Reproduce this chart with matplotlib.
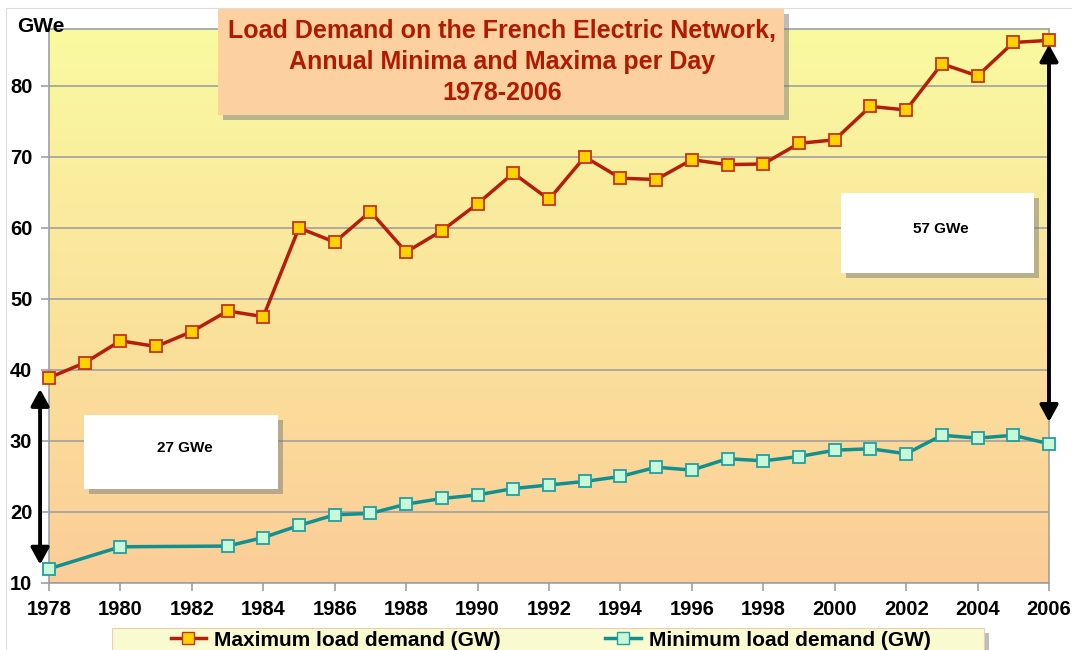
import numpy as np
import matplotlib.pyplot as plt
from matplotlib.patches import Rectangle
from matplotlib.lines import Line2D

plt.rcParams['font.family'] = ['Liberation Sans', 'DejaVu Sans']
plt.rcParams['font.weight'] = 'bold'

# data (GWe)
years = list(range(1978, 2007))
max_load = [38.9, 41.0, 44.1, 43.3, 45.4, 48.3, 47.5, 60.0, 58.0, 62.3,
            56.6, 59.6, 63.4, 67.7, 64.0, 70.0, 67.0, 66.8, 69.6, 68.9,
            69.0, 71.9, 72.4, 77.1, 76.6, 83.1, 81.4, 86.1, 86.4]
min_load = [12.0, np.nan, 15.1, np.nan, np.nan, 15.2, 16.4, 18.1, 19.6, 19.8,
            21.1, 21.9, 22.4, 23.3, 23.8, 24.3, 25.0, 26.3, 25.9, 27.5,
            27.2, 27.8, 28.7, 28.9, 28.2, 30.8, 30.4, 30.8, 29.6]
yticks = [10, 20, 30, 40, 50, 60, 70, 80]
xticks = list(range(1978, 2007, 2))

W, H = 1072, 650
fig = plt.figure(figsize=(W / 100, H / 100), dpi=100)

def px_box(x0, y0, x1, y1, face, shadow=True, edge='none', z=5):
    # rectangle in figure pixels (origin top-left)
    if shadow:
        fig.patches.append(Rectangle(((x0 + 5) / W, 1 - (y1 + 5) / H), (x1 - x0) / W, (y1 - y0) / H,
                                     transform=fig.transFigure, facecolor='#7a7a7a', alpha=0.5,
                                     edgecolor='none', zorder=z - 0.1))
    fig.patches.append(Rectangle((x0 / W, 1 - y1 / H), (x1 - x0) / W, (y1 - y0) / H,
                                 transform=fig.transFigure, facecolor=face, edgecolor=edge,
                                 linewidth=0.8, zorder=z))

# faint outer chart border
px_box(6, 8, 1300, 900, 'none', shadow=False, edge='#dddddd', z=0)

ax = fig.add_axes([49 / W, 1 - 583 / H, 1000 / W, 554 / H])
ax.set_xlim(1978, 2006)
ax.set_ylim(10, 88)

# background gradient yellow -> orange
grad = np.linspace(0, 1, 256).reshape(-1, 1)
top = np.array([249, 250, 160]) / 255
bot = np.array([252, 205, 152]) / 255
img = top + (bot - top) * grad[..., None]
ax.imshow(img, extent=[1978, 2006, 10, 88], aspect='auto', zorder=0)

ax.set_yticks(yticks)
ax.set_xticks(xticks)
ax.grid(axis='y', color='#a0a0a0', linewidth=1.2, zorder=1)
for s in ax.spines.values():
    s.set_color('#a0a0a0')
    s.set_linewidth(1.2)
ax.tick_params(axis='both', colors='#a0a0a0', labelcolor='black', labelsize=14.5,
               length=6, width=1.2, pad=6)
for lab in ax.get_xticklabels() + ax.get_yticklabels():
    lab.set_fontweight('bold')

yrs = np.array(years)
mx = np.array(max_load)
mn = np.array(min_load)
ok = ~np.isnan(mn)
ax.plot(yrs, mx, color='#b41e0a', linewidth=2.5, marker='s', markersize=9,
        markerfacecolor='#ffd200', markeredgecolor='#c83214', markeredgewidth=1.3,
        zorder=4, clip_on=False)
ax.plot(yrs[ok], mn[ok], color='#10908f', linewidth=2.5, marker='s', markersize=9,
        markerfacecolor='#c8f8d8', markeredgecolor='#20a0a0', markeredgewidth=1.3,
        zorder=4, clip_on=False)

# double arrows
arrow = dict(arrowstyle='<|-|>,head_length=1.0,head_width=0.55', color='black', linewidth=2.8)
ax.annotate('', xy=(1977.75, 12.2), xytext=(1977.75, 37.7),
            arrowprops=arrow, annotation_clip=False, zorder=6)
ax.annotate('', xy=(2006, 32.3), xytext=(2006, 86.2),
            arrowprops=arrow, annotation_clip=False, zorder=6)

# text boxes
px_box(84, 415, 278, 489, 'white')
fig.text(185 / W, 1 - 448 / H, '27 GWe', ha='center', va='center', fontsize=11, fontweight='bold', zorder=6)
px_box(841, 193, 1034, 273, 'white')
fig.text(941 / W, 1 - 229 / H, '57 GWe', ha='center', va='center', fontsize=11, fontweight='bold', zorder=6)

# title box
px_box(218, 9, 784, 115, '#fdd0a0')
fig.text(502 / W, 1 - 62 / H,
         'Load Demand on the French Electric Network,\nAnnual Minima and Maxima per Day\n1978-2006',
         ha='center', va='center', fontsize=18, fontweight='bold', color='#b01a00',
         linespacing=1.35, zorder=6)

fig.text(17 / W, 1 - 26 / H, 'GWe', ha='left', va='center', fontsize=15, fontweight='bold')

# legend
px_box(112, 628, 984, 700, '#fafad0', edge='#e8d0b0')
handles = [Line2D([], [], color='#b41e0a', linewidth=2.5, marker='s', markersize=9,
                  markerfacecolor='#ffd200', markeredgecolor='#c83214'),
           Line2D([], [], color='#10908f', linewidth=2.5, marker='s', markersize=9,
                  markerfacecolor='#c8f8d8', markeredgecolor='#20a0a0')]
leg = fig.legend(handles, ['Maximum load demand (GW)', 'Minimum load demand (GW)'],
                 loc='center left', bbox_to_anchor=(152 / W, 1 - 640 / H), ncol=2,
                 frameon=False, handlelength=1.7, handletextpad=0.4,
                 columnspacing=5.0, prop={'weight': 'bold', 'size': 15})
leg.set_zorder(7)

fig.savefig('out.png', dpi=100)
